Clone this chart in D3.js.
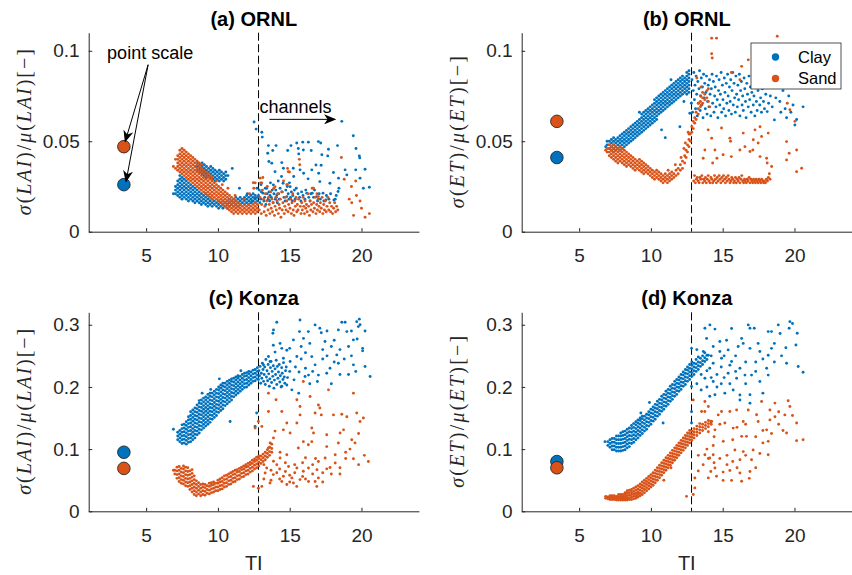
<!DOCTYPE html>
<html lang="en">
<head>
<meta charset="UTF-8">
<title>TI vs variability</title>
<script src="https://cdnjs.cloudflare.com/ajax/libs/d3/7.8.5/d3.min.js"></script>
<style>
  body { margin: 0; background: #fff; }
  svg { display: block; font-family: "Liberation Sans", Arial, sans-serif; }
  .axis path, .axis line { stroke: #262626; stroke-width: 1; }
  .axis text { fill: #262626; font-size: 19px; font-family: "Liberation Sans", Arial, sans-serif; }
</style>
</head>
<body>
<svg id="chart" width="852" height="575"></svg>
<script>
const CLAY = '#0072BD';
const SAND = '#D95319';
const TI_DOMAIN = [1, 24];
const TI_TICKS = [5, 10, 15, 20];
const CHANNEL_TI = 12.83;
const POINT_TI = 3.45;

// every entry is [TI, value, value, ...]
const ornlLaiClay = [
  [6.9,.021],[7.05,.021,.023,.025],[7.2,.020,.022,.024,.026,.028],[7.35,.019,.021,.023,.025,.027,.029,.031],
  [7.5,.018,.020,.022,.024,.026,.028,.030],[7.65,.019,.021,.023,.025,.027,.029],[7.8,.018,.020,.022,.024,.026,.028],
  [7.95,.017,.019,.021,.023,.025,.027],[8.1,.018,.020,.022,.024,.026],[8.25,.017,.019,.021,.023,.025],
  [8.4,.016,.018,.020,.022,.024],[8.55,.017,.019,.021,.023],[8.7,.016,.018,.020,.022],[8.85,.015,.017,.019,.021],
  [9.0,.016,.018,.020],[9.15,.015,.017,.019,.021],[9.3,.014,.016,.018,.020],[9.45,.015,.017,.019],
  [9.6,.014,.016,.018],[9.75,.015,.017],[9.9,.014,.016],[10.05,.013,.015,.017],[10.2,.014,.016],
  [10.35,.013,.015,.017],[10.5,.014,.016],[10.65,.013,.015,.017],[10.8,.014,.016,.018],[10.95,.015,.017],
  [11.1,.014,.016,.018],[11.25,.015,.017,.019],[11.4,.014,.016,.018],[11.55,.015,.017,.019],[11.7,.016,.018],
  [11.85,.015,.017,.019],[12.0,.016,.018,.020],[12.15,.015,.017,.019],[12.3,.016,.018,.020],
  [12.45,.017,.019,.021],[12.6,.016,.018,.020],[12.75,.017,.019],
  [8.45,.036],[8.6,.034,.036,.038],[8.75,.033,.035,.037],[8.9,.032,.034,.036,.038],[9.05,.031,.033,.035,.037],
  [9.2,.030,.032,.034,.036],[9.35,.031,.033,.035],[9.5,.030,.032,.034,.036],[9.65,.029,.031,.033,.035],
  [9.8,.028,.030,.032,.034],[9.95,.029,.031,.033],[10.1,.028,.030,.032,.034],[10.25,.029,.031,.033],
  [10.4,.028,.030,.032],[10.55,.029,.031,.033],[10.7,.031],[11.0,.035],[11.5,.024],[12.05,.021],
  [12.37,.0167],[12.52,.0606],[12.59,.0185],[12.66,.0567],[12.72,.024],[12.83,.020],[12.88,.023],[12.92,.016],
  [12.98,.018],[13.03,.022],[13.0,.026],[13.06,.055],[13.09,.0523],[13.14,.0213],[13.2,.017],[13.26,.019],
  [13.3,.024],[13.34,.015],[13.4,.024],[13.43,.021],[13.47,.0434],[13.5,.018],[13.52,.0476],[13.55,.0388],
  [13.56,.022],[13.6,.017],[13.63,.020],[13.66,.027],[13.72,.019],[13.75,.0379],[13.78,.023],[13.82,.0449],
  [13.84,.016],[13.86,.0259],[13.9,.021],[13.98,.0332],[14.0,.018],[14.05,.0476],[14.03,.023],[14.08,.019],
  [14.1,.0203],[14.14,.016],[14.2,.028],[14.23,.021],[14.28,.018],[14.33,.024],[14.45,.0382],[14.43,.0305],
  [14.48,.022],[14.56,.0351],[14.54,.0268],[14.6,.019],[14.68,.017],[14.73,.023],[14.8,.0194],[14.83,.025],
  [14.86,.0449],[14.9,.021],[14.95,.018],[14.98,.027],[15.03,.0249],[15.06,.019],[15.09,.0476],[15.12,.022],
  [15.18,.017],[15.22,.020],[15.25,.0351],[15.28,.0305],[15.33,.023],[15.38,.018],[15.49,.049],[15.46,.024],
  [15.6,.046],[15.63,.043],[15.58,.021],[15.72,.0342],[15.69,.019],[15.78,.017],[15.83,.022],[15.91,.0495],
  [15.95,.0452],[15.97,.0323],[15.93,.020],[16.06,.018],[16.12,.023],[16.19,.0213],[16.3,.0495],[16.28,.0292],
  [16.33,.019],[16.42,.017],[16.47,.021],[16.5,.0449],[16.54,.0342],[16.57,.0213],[16.66,.019],[16.73,.023],
  [16.83,.0369],[16.88,.0194],[16.94,.017],[17.0,.0498],[17.02,.0323],[17.05,.021],[17.1,.0277],[17.13,.018],
  [17.16,.049],[17.19,.0367],[17.24,.0425],[17.32,.0213],[17.38,.017],[17.52,.0175],[17.56,.020],[17.65,.0419],
  [17.7,.0456],[17.73,.018],[17.8,.0268],[17.85,.021],[18.05,.0327],[18.08,.0175],[18.17,.018],[18.24,.020],
  [18.33,.0476],[18.4,.0296],[18.43,.024],[18.37,.0222],[18.63,.061],[18.86,.0342],[18.98,.0314],[19.43,.053],
  [19.62,.046],[19.6,.0342],[19.85,.0419],[19.88,.0408],[19.9,.0296],[20.13,.024],[20.25,.0345],[20.55,.0246]
];
const ornlLaiSand = [
  [6.9,.036],[7.05,.035,.040],
  [7.2,.034,.036,.038,.040,.042],[7.35,.033,.035,.037,.039,.041,.043,.045],
  [7.5,.032,.034,.036,.038,.040,.042,.044,.046],[7.65,.031,.033,.035,.037,.039,.041,.043,.045],
  [7.8,.030,.032,.034,.036,.038,.040,.042,.044],[7.95,.029,.031,.033,.035,.037,.039,.041,.043],
  [8.1,.028,.030,.032,.034,.036,.038,.040,.042],[8.25,.027,.029,.031,.033,.035,.037,.039,.041],
  [8.4,.026,.028,.030,.032,.034,.036,.038,.040],[8.55,.025,.027,.029,.031,.033,.035,.037,.039],
  [8.7,.024,.026,.028,.030,.032,.034,.036,.038],[8.85,.023,.025,.027,.029,.031,.033,.035,.037],
  [9.0,.022,.024,.026,.028,.030,.032,.034],[9.15,.021,.023,.025,.027,.029,.031,.033],
  [9.3,.020,.022,.024,.026,.028,.030,.032],[9.45,.019,.021,.023,.025,.027,.029,.031],
  [9.6,.018,.020,.022,.024,.026,.028,.030],[9.75,.019,.021,.023,.025,.027],[9.9,.018,.020,.022,.024,.026],
  [10.05,.017,.019,.021,.023,.025],[10.2,.016,.018,.020,.022,.024],[10.35,.015,.017,.019,.021,.023],
  [10.5,.014,.016,.018,.020,.022],[10.65,.013,.015,.017,.019,.021],[10.8,.012,.014,.016,.018,.020],
  [10.95,.011,.013,.015,.017,.019],[11.1,.010,.012,.014,.016,.018],[11.25,.011,.013,.015,.017],
  [11.4,.010,.012,.014,.016],[11.55,.011,.013,.015],[11.7,.010,.012,.014],[11.85,.011,.013,.015],
  [12.0,.010,.012,.014],[12.15,.011,.013,.015],[12.3,.010,.012,.014],[12.45,.011,.013,.015],
  [12.6,.010,.012,.014,.016],[12.75,.011,.013,.015],
  [9.9,.028],[10.3,.026],[10.7,.024],[11.2,.020],[11.8,.018],[12.2,.021],[12.5,.024],[12.6,.027],
  [12.88,.012],[12.93,.019],[12.97,.027],[13.02,.010],[13.05,.015],[13.1,.023],[13.13,.030],[13.18,.018],
  [13.22,.011],[13.27,.014],[13.31,.021],[13.36,.009],[13.4,.017],[13.44,.025],[13.49,.012],[13.53,.019],
  [13.58,.015],[13.62,.010],[13.67,.022],[13.71,.013],[13.76,.018],[13.8,.011],[13.85,.016],[13.89,.024],
  [13.94,.009],[13.98,.014],[14.03,.019],[14.07,.012],[14.12,.017],[14.16,.021],[14.21,.010],[14.26,.015],
  [14.3,.013],[14.35,.018],[14.39,.008],[14.44,.022],[14.48,.012],[14.53,.016],[14.57,.028],[14.62,.010],
  [14.66,.014],[14.71,.019],[14.75,.012],[14.8,.017],[14.84,.026],[14.89,.011],[14.93,.015],[14.98,.033],
  [15.02,.013],[15.07,.018],[15.12,.010],[15.16,.016],[15.21,.021],[15.25,.012],[15.3,.009],[15.35,.017],
  [15.39,.014],[15.44,.019],[15.49,.011],[15.53,.015],[15.58,.012],[15.62,.018],[15.67,.040],[15.7,.037],
  [15.74,.014],[15.79,.010],[15.84,.016],[15.88,.012],[15.93,.019],[15.98,.014],[16.03,.010],[16.07,.017],
  [16.12,.013],[16.17,.015],[16.22,.011],[16.27,.021],[16.32,.014],[16.37,.009],[16.42,.017],[16.47,.012],
  [16.52,.015],[16.57,.024],[16.62,.011],[16.67,.016],[16.72,.013],[16.78,.019],[16.83,.010],[16.88,.015],
  [16.93,.012],[16.98,.018],[17.04,.014],[17.09,.011],[17.14,.016],[17.2,.013],[17.26,.019],[17.31,.010],
  [17.37,.015],[17.42,.012],[17.48,.017],[17.54,.011],[17.6,.014],[17.66,.019],[17.72,.012],[17.79,.016],
  [17.85,.011],[17.92,.014],[17.99,.010],[18.06,.013],[18.13,.016],[18.2,.011],[18.27,.014],[18.35,.012],
  [18.6,.041],[18.8,.029],[19.15,.018],[19.3,.025],[19.32,.016],[19.45,.009],[19.6,.028],[19.65,.020],
  [19.9,.017],[20.0,.013],[20.25,.008],[20.55,.010],[16.66,.024],[17.0,.0194],[16.9,.021],[12.47,.0271],
  [12.94,.0296],[13.06,.027],[13.98,.0249],[14.8,.026],[14.85,.035],[14.9,.0332]
];
const ornlEtClay = [
  [6.85,.047],[6.95,.048,.050],[7.1,.046,.048,.050],[7.25,.045,.047,.049,.051],[7.4,.044,.046,.048,.050,.052],
  [7.55,.045,.047,.049,.051],[7.7,.046,.048,.050,.052],[7.85,.045,.047,.049,.051,.053],
  [8.0,.046,.048,.050,.052,.054],[8.15,.047,.049,.051,.053,.055],[8.3,.048,.050,.052,.054,.056],
  [8.45,.049,.051,.053,.055,.057],[8.6,.050,.052,.054,.056,.058],[8.75,.051,.053,.055,.057,.059],
  [8.9,.052,.054,.056,.058,.060],[9.05,.053,.055,.057,.059,.061],[9.2,.054,.056,.058,.060,.062],
  [9.35,.055,.057,.059,.061,.063,.065],[9.5,.056,.058,.060,.062,.064,.066],[9.65,.057,.059,.061,.063,.065,.067],
  [9.8,.058,.060,.062,.064,.066,.068],[9.95,.059,.061,.063,.065,.067,.069],[10.1,.060,.062,.064,.066,.068,.070],
  [10.25,.061,.063,.065,.067,.069,.071,.073],[10.4,.062,.064,.066,.068,.070,.072,.074],
  [10.55,.065,.067,.069,.071,.073,.075],[10.7,.066,.068,.070,.072,.074,.076],[10.85,.067,.069,.071,.073,.075,.077],
  [11.0,.068,.070,.072,.074,.076,.078],[11.15,.069,.071,.073,.075,.077,.079],[11.3,.070,.072,.074,.076,.078,.080],
  [11.45,.071,.073,.075,.077,.079,.081],[11.6,.072,.074,.076,.078,.080,.082],[11.75,.073,.075,.077,.079,.081,.083],
  [11.9,.074,.076,.078,.080,.082,.084],[12.05,.075,.077,.079,.081,.083,.085],[12.2,.076,.078,.080,.082,.084,.086],
  [12.35,.077,.079,.081,.083,.085],[12.5,.076,.078,.080,.082,.084,.086,.088],[12.65,.077,.079,.081,.083,.085,.087,.089],
  [10.74,.0563],[11.0,.052],[12.02,.058],[12.71,.0655],[9.2,.066],[11.4,.084],[12.3,.072],
  [12.82,.071],[12.86,.084],[12.9,.066],[12.95,.078],[12.99,.088],[13.03,.073],[13.07,.081],[13.11,.068],
  [13.15,.086],[13.19,.076],[13.23,.064],[13.27,.083],[13.31,.071],[13.35,.079],[13.39,.089],[13.43,.067],
  [13.47,.075],[13.51,.085],[13.55,.070],[13.59,.080],[13.63,.063],[13.67,.087],[13.71,.074],[13.75,.082],
  [13.79,.068],[13.83,.077],[13.87,.086],[13.91,.065],[13.95,.072],[13.99,.081],[14.04,.069],[14.08,.084],
  [14.12,.076],[14.17,.064],[14.21,.079],[14.26,.087],[14.3,.071],[14.35,.083],[14.39,.066],[14.44,.075],
  [14.48,.080],[14.53,.069],[14.57,.086],[14.62,.073],[14.66,.063],[14.71,.078],[14.75,.084],[14.8,.070],
  [14.84,.076],[14.89,.088],[14.93,.066],[14.98,.081],[15.02,.073],[15.07,.068],[15.11,.085],[15.16,.077],
  [15.2,.064],[15.25,.082],[15.29,.071],[15.34,.087],[15.38,.075],[15.43,.067],[15.47,.080],[15.52,.072],
  [15.56,.084],[15.61,.065],[15.65,.078],[15.7,.088],[15.74,.070],[15.79,.082],[15.83,.074],[15.88,.066],
  [15.92,.086],[15.97,.076],[16.02,.069],[16.06,.081],[16.11,.073],[16.16,.087],[16.2,.064],[16.25,.078],
  [16.3,.083],[16.35,.070],[16.39,.075],[16.44,.067],[16.49,.085],[16.54,.079],[16.59,.072],[16.63,.063],
  [16.68,.082],[16.73,.076],[16.78,.069],[16.83,.086],[16.88,.073],[16.93,.080],[16.98,.066],[17.03,.077],
  [17.08,.084],[17.13,.070],[17.18,.075],[17.24,.064],[17.29,.081],[17.35,.072],[17.4,.067],[17.46,.078],
  [17.52,.083],[17.58,.070],[17.64,.074],[17.7,.066],[17.77,.079],[17.84,.072],[17.91,.068],[18.0,.076],
  [18.1,.0664],[18.2,.071],[18.32,.075],[18.45,.069],[18.6,.0618],[18.7,.074],[18.98,.072],[19.05,.066],
  [19.2,.078],[19.35,.068],[19.45,.063],[19.6,.075],[19.75,.066],[19.9,.070],[20.03,.059],[20.15,.062],[20.6,.069]
];
const ornlEtSand = [
  [6.85,.045],[6.95,.044,.046],[7.1,.042,.044,.046,.048],[7.25,.041,.043,.045,.047],[7.4,.040,.042,.044,.046,.048],
  [7.55,.039,.041,.043,.045,.047],[7.7,.038,.040,.042,.044,.046],[7.85,.039,.041,.043,.045,.047],
  [8.0,.038,.040,.042,.044,.046],[8.15,.037,.039,.041,.043,.045],[8.3,.036,.038,.040,.042,.044],
  [8.45,.037,.039,.041,.043],[8.6,.036,.038,.040,.042],[8.75,.035,.037,.039,.041],[8.9,.034,.036,.038,.040],
  [9.05,.035,.037,.039],[9.2,.034,.036,.038,.040],[9.35,.033,.035,.037,.039],[9.5,.032,.034,.036,.038],
  [9.65,.033,.035,.037],[9.8,.032,.034,.036],[9.95,.031,.033,.035],[10.1,.030,.032,.034],[10.25,.029,.031,.033],
  [10.4,.030,.032,.034],[10.55,.029,.031,.033],[10.7,.028,.030,.032],[10.85,.027,.029,.031],[11.0,.028,.030,.032],
  [11.15,.027,.029,.031],[11.3,.028,.030,.032],[11.45,.029,.031,.033],[11.6,.030,.032],[11.75,.031,.034],
  [11.9,.032,.035],[12.05,.034,.037],[12.2,.035,.039],[12.35,.038,.042],[12.45,.041,.045],[12.55,.044,.048],
  [12.65,.047,.051,.054],[12.75,.050,.054],[12.85,.055,.058],[12.95,.057,.061],[13.05,.060,.063],[13.15,.062,.066],
  [13.3,.065,.068,.071],[13.45,.069,.072,.075],[13.6,.071,.074,.077],[13.75,.073,.076],[13.9,.074,.078],
  [11.7,.037],[12.4,.049],[12.6,.055],[11.2,.034],[12.1,.041],[12.3,.046],
  [12.98,.028],[13.04,.031],[13.1,.027],[13.17,.029],[13.23,.030],[13.3,.028],[13.36,.027],[13.42,.030],
  [13.48,.029],[13.55,.031],[13.61,.027],[13.67,.029],[13.74,.028],[13.8,.030],[13.86,.027],[13.93,.029],
  [13.99,.031],[14.05,.028],[14.12,.027],[14.18,.030],[14.24,.029],[14.3,.027],[14.37,.028],[14.43,.031],
  [14.49,.029],[14.56,.027],[14.62,.030],[14.68,.028],[14.75,.031],[14.81,.029],[14.87,.027],[14.94,.030],
  [15.0,.028],[15.06,.031],[15.13,.029],[15.19,.027],[15.25,.030],[15.32,.028],[15.38,.031],[15.44,.029],
  [15.51,.027],[15.57,.028],[15.63,.030],[15.7,.029],[15.76,.027],[15.82,.028],[15.89,.030],[15.95,.027],
  [16.01,.029],[16.08,.028],[16.14,.030],[16.2,.027],[16.27,.029],[16.33,.031],[16.39,.028],[16.46,.027],
  [16.52,.029],[16.58,.028],[16.65,.027],[16.71,.029],[16.77,.028],[16.84,.030],[16.9,.027],[16.96,.029],
  [17.03,.028],[17.09,.027],[17.15,.029],[17.22,.028],[17.28,.027],[17.34,.029],[17.41,.028],[17.47,.027],
  [17.53,.029],[17.6,.028],[17.66,.027],[17.72,.029],[17.79,.028],[17.85,.027],[17.91,.028],[17.98,.027],
  [18.05,.029],[18.12,.028],[18.18,.030],[18.25,.032],[18.3,.029],
  [13.64,.0406],[13.76,.0452],[13.99,.0563],[14.23,.0517,.0984,.107],[14.27,.096],[14.3,.038],
  [14.46,.0452],[14.57,.107],[14.6,.0406],[14.92,.0573],[15.03,.0425],[15.5,.0517],[15.55,.050],
  [15.6,.0415,.088],[16.2,.0452,.084],[16.32,.0914],[16.43,.0545],[16.55,.047],[16.78,.095],
  [16.9,.0443],[17.1,.0452],[17.13,.0508],[17.25,.0563],[17.47,.049],[17.6,.058,.0415],
  [17.71,.0526],[18.06,.0406],[18.1,.038],[18.17,.0545],[18.41,.036],[18.8,.108],
  [19.45,.0498,.0397],[19.5,.071],[19.63,.0434],[19.68,.0674],[20.03,.061],[20.15,.0452,.0332],
  [20.5,.0351],[13.5,.080,.070],[14.0,.072,.079],[14.1,.069],[13.2,.085]
];
const konzaLaiClay = [
  [6.9,.132],[7.2,.115,.121,.127],[7.35,.112,.118,.124,.130],[7.5,.109,.115,.121,.127,.133,.139],
  [7.65,.110,.116,.122,.128,.134,.140],[7.8,.108,.114,.120,.126,.132,.138,.144],
  [7.95,.111,.117,.123,.129,.135,.141,.147,.152],[8.1,.112,.118,.124,.130,.136,.142,.148,.154,.160],
  [8.25,.115,.121,.127,.133,.139,.145,.151,.157,.163],[8.4,.118,.124,.130,.136,.142,.148,.154,.160,.166],
  [8.55,.123,.129,.135,.141,.147,.153,.159,.165,.171],[8.7,.126,.132,.138,.144,.150,.156,.162,.168,.174,.178],
  [8.85,.131,.137,.143,.149,.155,.161,.167,.173,.179],[9.0,.134,.140,.146,.152,.158,.164,.170,.176,.182],
  [9.15,.137,.143,.149,.155,.161,.167,.173,.179,.184],[9.3,.140,.146,.152,.158,.164,.170,.176,.182,.188],
  [9.45,.143,.149,.155,.161,.167,.173,.179,.185,.190],[9.6,.148,.154,.160,.166,.172,.178,.184,.190],
  [9.75,.151,.157,.163,.169,.175,.181,.187,.193],[9.9,.154,.160,.166,.172,.178,.184,.190,.196],
  [10.05,.159,.165,.171,.177,.183,.189,.195,.200],[10.2,.162,.168,.174,.180,.186,.192,.198,.203],
  [10.35,.165,.171,.177,.183,.189,.195,.201,.206],[10.5,.170,.176,.182,.188,.194,.200,.206],
  [10.65,.173,.179,.185,.191,.197,.203,.209],[10.8,.176,.182,.188,.194,.200,.206,.211],
  [10.95,.179,.185,.191,.197,.203,.209,.213],[11.1,.184,.190,.196,.202,.208,.214],
  [11.25,.187,.193,.199,.205,.211,.216],[11.4,.190,.196,.202,.208,.214,.218],[11.55,.193,.199,.205,.211,.217],
  [11.7,.196,.202,.208,.214,.220],[11.85,.199,.205,.211,.217,.222],[12.0,.200,.206,.212,.218,.223],
  [12.15,.203,.209,.215,.221,.225],[12.3,.206,.212,.218,.224],[12.45,.209,.215,.221,.227],
  [12.6,.210,.216,.222,.228],[12.75,.213,.219,.225,.231],
  [10.85,.1445],[12.59,.1364],[12.7,.158],[8.9,.19],[10.1,.213],[9.5,.196],[11.6,.226],
  [12.82,.212],[12.86,.226],[12.9,.218],[12.94,.233],[12.98,.206],[13.02,.222],[13.06,.214],[13.1,.238],
  [13.14,.228],[13.18,.209],[13.22,.220],[13.26,.232],[13.3,.204],[13.34,.244],[13.38,.216],[13.42,.226],
  [13.46,.210],[13.5,.236],[13.54,.221],[13.58,.201],[13.62,.213],[13.66,.231],[13.7,.241],[13.74,.207],
  [13.78,.225],[13.82,.217],[13.86,.234],[13.9,.198],[13.94,.211],[13.98,.229],[14.02,.220],[14.06,.243],
  [14.1,.204],[14.14,.233],[14.18,.214],[14.22,.224],[14.27,.236],[14.31,.208],[14.35,.218],[14.4,.200],
  [14.44,.231],[14.48,.222],[14.53,.212],[14.57,.239],[14.62,.216],[14.66,.206],[14.71,.226],[14.76,.232],
  [14.8,.203],[14.85,.215],
  [13.17,.2355],[13.52,.249],[13.63,.2408],[13.83,.2863],[13.86,.267],[13.87,.2917],[13.98,.256],
  [14.1,.304],[14.33,.27],[14.45,.262,.201],[14.56,.246],[14.8,.259],[15.03,.2408],[15.15,.1953],
  [15.26,.2756],[15.3,.2114],[15.5,.249],[15.63,.19],[15.65,.224],[15.68,.289],[15.72,.3077],
  [15.96,.278],[16.07,.2167],[16.3,.289],[16.31,.219],[16.54,.2488],[16.77,.2997,.2355],
  [16.93,.2087],[17.0,.219],[17.1,.2943],[17.2,.287],[17.46,.273],[17.58,.222],[17.81,.23],
  [18.28,.2515],[18.39,.2917,.238],[18.63,.304],[18.86,.304],[18.98,.289],[19.44,.2756,.2355],
  [19.67,.305],[19.7,.277],[19.78,.297],[19.85,.309],[20.08,.262,.258],[20.25,.29,.2328],[20.6,.2167],
  [15.0,.225,.262],[15.4,.232],[15.8,.245,.265],[16.1,.255,.23],[16.4,.27,.205],[16.6,.225],
  [17.3,.245,.26],[17.6,.29,.25],[17.9,.265,.205],[18.1,.24,.275],[18.5,.22,.26],[18.8,.245],
  [19.1,.265,.22],[19.3,.29,.25],[19.6,.225],[19.9,.3]
];
const konzaLaiSand = [
  [6.9,.066],[7.0,.060,.066],[7.15,.053,.059,.065,.071],[7.3,.048,.054,.060,.066,.072],
  [7.45,.045,.051,.057,.063,.069],[7.6,.044,.050,.056,.062,.068,.073],[7.75,.041,.047,.053,.059,.065,.071],
  [7.9,.040,.046,.052,.058,.064,.070],[8.05,.035,.041,.047,.053,.059,.065],[8.2,.031,.037,.043,.049,.055,.061,.067],
  [8.35,.027,.033,.039,.045,.051,.057],[8.5,.025,.031,.037,.043,.049],[8.65,.028,.034,.040,.046],
  [8.8,.025,.031,.037,.043],[8.95,.027,.033,.039,.044],[9.1,.026,.032,.038,.043],[9.25,.029,.035,.041],
  [9.4,.028,.034,.040,.045],[9.55,.030,.036,.042,.046],[9.7,.031,.037,.043,.047],[9.85,.033,.039,.045],
  [10.0,.033,.039,.045,.050],[10.15,.035,.041,.047,.052],[10.3,.036,.042,.048,.054],[10.45,.039,.045,.051,.057],
  [10.6,.040,.046,.052,.058],[10.75,.043,.049,.055,.060],[10.9,.044,.050,.056,.062],[11.05,.047,.053,.059,.064],
  [11.2,.048,.054,.060,.066],[11.35,.051,.057,.063,.067],[11.5,.052,.058,.064,.069],[11.65,.055,.061,.067,.071],
  [11.8,.056,.062,.068,.073],[11.95,.059,.065,.071,.075],[12.1,.060,.066,.072,.077],[12.25,.063,.069,.075,.079],
  [12.4,.065,.071,.077,.082],[12.55,.068,.074,.080,.084],[12.7,.070,.076,.082,.087],[12.85,.073,.079,.085,.089],
  [13.0,.077,.083,.089],[13.15,.080,.086,.092],[13.3,.083,.089,.095],[13.45,.087,.093,.099],
  [13.6,.090,.096,.103],[13.75,.095,.101,.108],
  [12.47,.040],[12.59,.134],[12.82,.037,.1445],[13.06,.1365,.040],[13.29,.0617],[13.4,.0697],
  [13.52,.19,.1605,.102],[13.63,.0456],[13.64,.110],[13.86,.059],[13.87,.118,.0804],[13.98,.129],
  [14.05,.1793],[14.33,.095,.0857],[14.45,.1605,.048],[14.56,.131,.0563],[14.8,.142,.091,.043],
  [14.92,.072],[15.03,.126],[15.15,.0537],[15.26,.0456],[15.49,.040],[15.5,.1793,.142,.0697],
  [15.6,.1017],[15.72,.1685,.155,.051],[15.95,.2087,.112,.0643],[16.3,.107],[16.31,.0697,.048],
  [16.42,.1846],[16.54,.134,.112],[16.66,.126],[16.77,.158,.048],[16.89,.040],[16.9,.067],
  [17.0,.171,.080,.0537],[17.1,.166],[17.2,.155],[17.47,.0857],[17.58,.123,.104,.0683],[17.7,.1953],
  [17.81,.0705],[18.05,.155],[18.17,.091,.0777],[18.39,.1098],[18.51,.126],[18.63,.156],[18.75,.131],
  [18.98,.152],[19.32,.115],[19.44,.19,.0845],[19.55,.110],[19.67,.158],[19.9,.1445],[20.13,.150],
  [20.48,.080],
  [13.2,.052,.075],[13.7,.066,.05],[14.1,.062,.075],[14.3,.052,.068],[14.7,.064,.078],[15.0,.058,.047],
  [15.35,.062,.075],[15.9,.056,.078],[16.1,.052,.086],[16.6,.06,.075],[16.8,.085],[17.3,.062,.047],
  [17.9,.06],[18.5,.07,.06],[18.9,.085,.095],[19.2,.1],[19.8,.075,.125],[20.2,.09]
];
const konzaEtClay = [
  [6.8,.112],[7.0,.106,.112],[7.15,.103,.109,.115],[7.3,.099,.105,.111,.117],[7.45,.099,.105,.111,.117],
  [7.6,.097,.103,.109,.115,.121],[7.75,.097,.103,.109,.115,.121],[7.9,.097,.103,.109,.115,.121,.126],
  [8.05,.098,.104,.110,.116,.122,.128],[8.2,.099,.105,.111,.117,.123,.129],[8.35,.102,.108,.114,.120,.126,.132],
  [8.5,.104,.110,.116,.122,.128,.134],[8.65,.109,.115,.121,.127,.133,.138],[8.8,.111,.117,.123,.129,.135,.141],
  [8.95,.115,.121,.127,.133,.139,.144],[9.1,.118,.124,.130,.136,.142,.147],[9.25,.122,.128,.134,.140,.146,.150],
  [9.4,.125,.131,.137,.143,.149,.153],[9.55,.129,.135,.141,.147,.153],[9.7,.132,.138,.144,.150,.156],
  [9.85,.137,.143,.149,.155,.160],[10.0,.140,.146,.152,.158,.164],[10.15,.145,.151,.157,.163,.168],
  [10.3,.148,.154,.160,.166,.172],[10.45,.153,.159,.165,.171,.177],[10.6,.156,.162,.168,.174,.180],
  [10.75,.161,.167,.173,.179,.185],[10.9,.164,.170,.176,.182,.188],[11.05,.169,.175,.181,.187,.193],
  [11.2,.172,.178,.184,.190,.196],[11.35,.177,.183,.189,.195,.201],[11.5,.180,.186,.192,.198,.204],
  [11.65,.185,.191,.197,.203,.209],[11.8,.188,.194,.200,.206,.212],[11.95,.193,.199,.205,.211,.216],
  [12.1,.196,.202,.208,.214,.220],[12.25,.201,.207,.213,.219,.224],[12.4,.204,.210,.216,.222,.228],
  [12.55,.209,.215,.221,.227,.232],[12.7,.212,.218,.224,.230,.236],[12.85,.217,.223,.229,.235,.240],
  [13.0,.220,.226,.232,.238],[13.15,.225,.231,.237,.244],[13.3,.228,.234,.240,.248],[13.45,.233,.239,.246],
  [13.6,.236,.242,.250],[13.75,.241,.247,.255],[13.9,.244,.251],
  [10.85,.142],[12.83,.2006,.16,.142,.262],[9.9,.175],[9.3,.158],
  [13.65,.257],[13.76,.214,.2943],[13.88,.278],[14.0,.251],[14.1,.185,.23],[14.11,.2997],
  [14.34,.265,.238,.2087],[14.46,.293,.1873],[14.8,.273,.257],[14.92,.2462],[15.15,.19],[15.27,.275],
  [15.38,.2595,.222],[15.62,.294,.241],[15.73,.195],[15.97,.214],[16.08,.265],[16.2,.23,.187,.179],
  [16.32,.278],[16.43,.27],[16.55,.219],[16.78,.2997],[16.9,.2943,.262,.1873,.1739],[17.01,.219],
  [17.2,.2943],[17.47,.27],[17.59,.257,.2087],[18.06,.23],[18.17,.289,.251,.219],[18.4,.289,.262],
  [18.87,.2997],[19.0,.286],[19.4,.263],[19.45,.238],[19.63,.2943],[19.68,.305],[19.86,.302],
  [20.1,.2675],[20.19,.2863],[20.26,.2328],[20.6,.2237],
  [13.2,.205,.26],[13.5,.195,.22],[13.9,.2,.226],[14.2,.215,.25],[14.6,.22,.2],[14.9,.232,.205],
  [15.1,.25,.215],[15.5,.205,.235],[15.9,.25,.225],[16.6,.24,.205],[17.3,.24,.225],[17.8,.245,.19],
  [18.6,.24,.27],[19.1,.25]
];
const konzaEtSand = [
  [6.85,.021,.024],[7.0,.020,.023],[7.15,.019,.022,.025],[7.3,.019,.022,.025],[7.45,.019,.022,.025],
  [7.6,.018,.021,.024],[7.75,.018,.021,.024,.027],[7.9,.018,.021,.024,.027],[8.05,.018,.021,.024,.027],
  [8.2,.018,.021,.024,.027,.030],[8.35,.018,.021,.025,.029,.033],[8.5,.019,.022,.026,.030,.034],
  [8.65,.019,.023,.027,.031,.035],[8.8,.020,.024,.028,.032,.037],[8.95,.021,.025,.029,.034,.039],
  [9.1,.023,.027,.031,.036,.041],[9.25,.025,.029,.034,.039,.044],[9.4,.027,.032,.037,.042,.047],
  [9.55,.030,.035,.040,.045,.050],[9.7,.033,.038,.043,.048,.053],[9.85,.036,.041,.046,.051,.056],
  [10.0,.039,.044,.049,.054,.059],[10.15,.042,.047,.052,.057,.062],[10.3,.046,.051,.056,.061,.066],
  [10.45,.050,.055,.060,.065,.070],[10.6,.054,.059,.064,.069,.074],[10.75,.058,.063,.068,.073,.078],
  [10.9,.062,.067,.072,.077,.082],[11.05,.066,.071,.076,.081,.086],[11.2,.070,.075,.080,.085,.090],
  [11.35,.074,.079,.084,.089,.094],[11.5,.078,.083,.088,.093,.098],[11.65,.082,.087,.092,.097,.102],
  [11.8,.086,.091,.096,.101,.106],[11.95,.090,.095,.100,.105,.110],[12.1,.094,.099,.104,.109,.114],
  [12.25,.098,.103,.108,.113,.118],[12.4,.102,.107,.112,.117,.122],[12.55,.106,.111,.116,.121,.126],
  [12.7,.110,.115,.120,.125,.130],[12.85,.114,.119,.124,.129],[13.0,.118,.123,.128,.133],
  [13.2,.122,.127,.132,.137],[13.4,.126,.131,.136,.141],[13.6,.130,.135,.140],[13.8,.133,.138,.143],
  [14.0,.136,.141,.146],[14.2,.140,.145],
  [12.48,.024],[12.95,.0269,.179],[13.06,.0536,.0376],[10.9,.050],[11.4,.070],
  [13.53,.1605],[13.64,.075],[13.76,.1766,.1605,.091],[14.0,.1685,.128,.085,.0537],[14.1,.0857],
  [14.17,.144,.064],[14.23,.1445],[14.34,.091,.1058],[14.46,.131,.0697],[14.57,.0563],[14.69,.155],
  [14.92,.1605],[15.03,.063,.0497],[15.04,.1125],[15.15,.142],[15.5,.1605,.0657],[15.62,.0497],
  [15.73,.1338],[15.85,.0986],[15.97,.163],[16.2,.083,.0617],[16.32,.1205,.0483],[16.43,.096,.1445],
  [16.66,.1205],[16.78,.163],[16.85,.053],[16.9,.064],[17.01,.083],[17.12,.0985],[17.36,.1552],
  [17.47,.1445],[17.59,.093],[17.71,.1766],[18.06,.131],[18.17,.1125,.091],[18.29,.147,.163],
  [18.64,.174,.152],[19.33,.155],[19.45,.126],[19.56,.1777],[19.68,.1685],[19.86,.154],
  [20.15,.142,.1136],[20.6,.115],
  [13.3,.09,.065],[13.9,.1],[14.4,.12,.078],[14.8,.085,.14],[15.3,.09,.075],[15.7,.115,.08],
  [16.0,.135,.07],[16.6,.09,.14],[17.3,.12,.07],[17.8,.13,.11],[18.4,.125],[18.9,.14,.16],[19.2,.13]
];

// point-scale values, panels a..d
const pointClay = [0.026, 0.041, 0.095, 0.080];
const pointSand = [0.047, 0.061, 0.069, 0.070];

const titles = ['(a) ORNL', '(b) ORNL', '(c) Konza', '(d) Konza'];
const yVars = ['LAI', 'ET', 'LAI', 'ET'];
const yMaxes = [0.11, 0.11, 0.32, 0.32];
const yTickValues = [[0, 0.05, 0.1], [0, 0.05, 0.1], [0, 0.1, 0.2, 0.3], [0, 0.1, 0.2, 0.3]];
const clayData = [ornlLaiClay, ornlEtClay, konzaLaiClay, konzaEtClay];
const sandData = [ornlLaiSand, ornlEtSand, konzaLaiSand, konzaEtSand];

const lefts = [88.7, 521.7, 88.7, 521.7];
const tops = [32.7, 32.7, 312.3, 312.3];
const PW = 330.2, PH = 199;
const DOT_R = 1.45;

const svg = d3.select('#chart');

svg.append('defs').append('marker')
  .attr('id', 'arrow')
  .attr('viewBox', '0 0 12 10')
  .attr('refX', 11).attr('refY', 5)
  .attr('markerWidth', 12).attr('markerHeight', 10)
  .attr('markerUnits', 'userSpaceOnUse')
  .attr('orient', 'auto')
  .append('path')
  .attr('d', 'M0,0 L12,5 L0,10 L3.5,5 Z')
  .attr('fill', '#000');

const flat = cols => cols.flatMap(c => c.slice(1).map(v => [c[0], v]));

function yLabel(g, v, cx, cy) {
  const t = g.append('text')
    .attr('transform', `translate(${cx},${cy}) rotate(-90)`)
    .attr('text-anchor', 'middle')
    .attr('dy', '0.35em')
    .attr('textLength', v === 'LAI' ? 166 : 152)
    .attr('lengthAdjust', 'spacing')
    .style('font-family', '"Liberation Serif", "DejaVu Serif", serif')
    .style('font-size', '20px')
    .attr('fill', '#262626');
  const parts = [['σ', 1], ['(', 0], [v, 1], [')', 0], ['/', 0], ['μ', 1], ['(', 0], [v, 1], [')', 0], ['[−]', 0]];
  parts.forEach(([s, it]) => t.append('tspan').text(s).style('font-style', it ? 'italic' : 'normal'));
}

titles.forEach((title, i) => {
  const g = svg.append('g').attr('transform', `translate(${lefts[i]},${tops[i]})`);
  const x = d3.scaleLinear().domain(TI_DOMAIN).range([0, PW]);
  const y = d3.scaleLinear().domain([0, yMaxes[i]]).range([PH, 0]);

  g.append('g').attr('class', 'axis')
    .attr('transform', `translate(0,${PH})`)
    .call(d3.axisBottom(x).tickValues(TI_TICKS).tickSizeInner(-3.5).tickSizeOuter(0).tickPadding(17));
  g.append('g').attr('class', 'axis')
    .call(d3.axisLeft(y).tickValues(yTickValues[i]).tickFormat(d => d === 0 ? '0' : String(d))
      .tickSizeInner(-3.5).tickSizeOuter(0).tickPadding(9));

  // channel threshold
  g.append('line')
    .attr('x1', x(CHANNEL_TI)).attr('x2', x(CHANNEL_TI))
    .attr('y1', 0).attr('y2', PH)
    .attr('stroke', '#000').attr('stroke-width', 1)
    .attr('stroke-dasharray', '8,3.5');

  g.append('g').selectAll('circle').data(flat(clayData[i])).join('circle')
    .attr('cx', d => x(d[0])).attr('cy', d => y(d[1])).attr('r', DOT_R).attr('fill', CLAY);
  g.append('g').selectAll('circle').data(flat(sandData[i])).join('circle')
    .attr('cx', d => x(d[0])).attr('cy', d => y(d[1])).attr('r', DOT_R).attr('fill', SAND);

  // point scale markers
  [[pointClay[i], CLAY], [pointSand[i], SAND]].forEach(([v, c]) => {
    g.append('circle').attr('cx', x(POINT_TI)).attr('cy', y(v)).attr('r', 6.3)
      .attr('fill', c).attr('stroke', '#1a1a1a').attr('stroke-width', 0.8);
  });

  g.append('text')
    .attr('x', PW / 2).attr('y', -7)
    .attr('text-anchor', 'middle')
    .style('font-size', '20px').style('font-weight', 'bold')
    .attr('fill', '#000')
    .text(title);

  yLabel(g, yVars[i], -65, PH / 2);

  if (i >= 2) {
    g.append('text')
      .attr('x', PW / 2).attr('y', PH + 59)
      .attr('text-anchor', 'middle')
      .style('font-size', '20px')
      .attr('fill', '#262626')
      .text('TI');
  }

  if (i === 0) {
    g.append('text').attr('x', x(5.28)).attr('y', y(0.099)).attr('dy', '0.35em')
      .attr('text-anchor', 'middle').style('font-size', '18px').attr('fill', '#000').text('point scale');
    [[3.54, 0.0498], [3.6, 0.0277]].forEach(([tx, ty]) => {
      g.append('line').attr('x1', x(5.14)).attr('y1', y(0.0923)).attr('x2', x(tx)).attr('y2', y(ty))
        .attr('stroke', '#000').attr('stroke-width', 1).attr('marker-end', 'url(#arrow)');
    });
    g.append('text').attr('x', x(15.41)).attr('y', y(0.069)).attr('dy', '0.35em')
      .attr('text-anchor', 'middle').style('font-size', '18px').attr('fill', '#000').text('channels');
    g.append('line').attr('x1', x(13.59)).attr('y1', y(0.0621)).attr('x2', x(18.16)).attr('y2', y(0.0621))
      .attr('stroke', '#000').attr('stroke-width', 1).attr('marker-end', 'url(#arrow)');
  }

  if (i === 1) {
    const lg = g.append('g').attr('transform', 'translate(229.3,10.3)');
    lg.append('rect').attr('width', 90).attr('height', 46)
      .attr('fill', '#fff').attr('stroke', '#262626').attr('stroke-width', 0.8);
    [['Clay', CLAY], ['Sand', SAND]].forEach(([name, c], k) => {
      lg.append('circle').attr('cx', 24.5).attr('cy', 14 + k * 21.5).attr('r', 3.7).attr('fill', c);
      lg.append('text').attr('x', 47).attr('y', 14 + k * 21.5).attr('dy', '0.35em')
        .style('font-size', '16.5px').attr('fill', '#000').text(name);
    });
  }
});
</script>
</body>
</html>
